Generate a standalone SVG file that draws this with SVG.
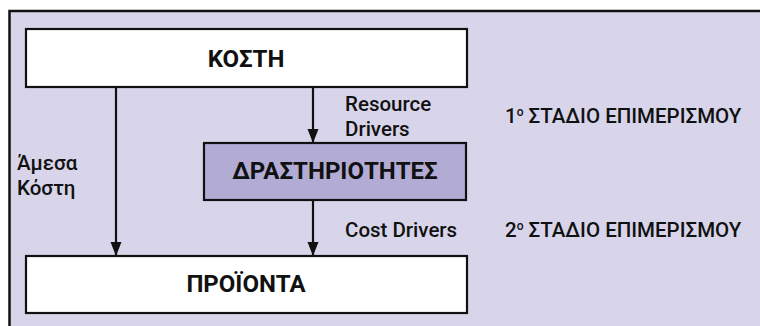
<svg xmlns="http://www.w3.org/2000/svg" width="760" height="326" viewBox="0 0 760 326">
<style>
.box{stroke:#111;stroke-width:2.2}
.w{fill:#fff}
.p{fill:#b2acd5}
.t{font-family:Roboto,"DejaVu Sans",sans-serif;font-weight:bold;font-size:24px;fill:#111;text-anchor:middle}
.l{font-family:Roboto,"DejaVu Sans",sans-serif;font-weight:500;font-size:20.5px;fill:#111}
.c{stroke:#111;stroke-width:2.2;fill:none}
</style>
<defs>
<marker id="ah" markerUnits="userSpaceOnUse" markerWidth="14" markerHeight="12" refX="13" refY="6" orient="auto" viewBox="0 0 14 12">
<path d="M0,0.5 L14,6 L0,11.5 z" fill="#111"/>
</marker>
</defs>
<rect x="0" y="0" width="760" height="326" fill="#fff"/>
<rect x="9.5" y="11" width="760" height="330" fill="#d8d5ea" stroke="#111" stroke-width="2.5"/>
<g id="connectors">
<line class="c" x1="116" y1="87" x2="116" y2="255" marker-end="url(#ah)"/>
<line class="c" x1="313" y1="87" x2="313" y2="142" marker-end="url(#ah)"/>
<line class="c" x1="313" y1="200" x2="313" y2="255" marker-end="url(#ah)"/>
</g>
<g id="koste">
<rect class="box w" x="26" y="29" width="441" height="58"/>
<text class="t" x="246" y="67">ΚΟΣΤΗ</text>
</g>
<g id="drastiriotites">
<rect class="box p" x="204" y="143" width="262" height="57"/>
<text class="t" x="335" y="179">ΔΡΑΣΤΗΡΙΟΤΗΤΕΣ</text>
</g>
<g id="proionta">
<rect class="box w" x="26" y="256" width="441" height="57"/>
<text class="t" x="246" y="292">ΠΡΟΪΟΝΤΑ</text>
</g>
<g id="labels">
<text class="l" x="345" y="111">Resource</text>
<text class="l" x="345" y="136">Drivers</text>
<text class="l" x="17" y="170">Άμεσα</text>
<text class="l" x="17" y="195">Κόστη</text>
<text class="l" x="345" y="237">Cost Drivers</text>
<text class="l" x="505" y="123">1<tspan font-size="12" dy="-7">ο</tspan><tspan dy="7"> ΣΤΑΔΙΟ ΕΠΙΜΕΡΙΣΜΟΥ</tspan></text>
<text class="l" x="505" y="237">2<tspan font-size="12" dy="-7">ο</tspan><tspan dy="7"> ΣΤΑΔΙΟ ΕΠΙΜΕΡΙΣΜΟΥ</tspan></text>
</g>
</svg>
